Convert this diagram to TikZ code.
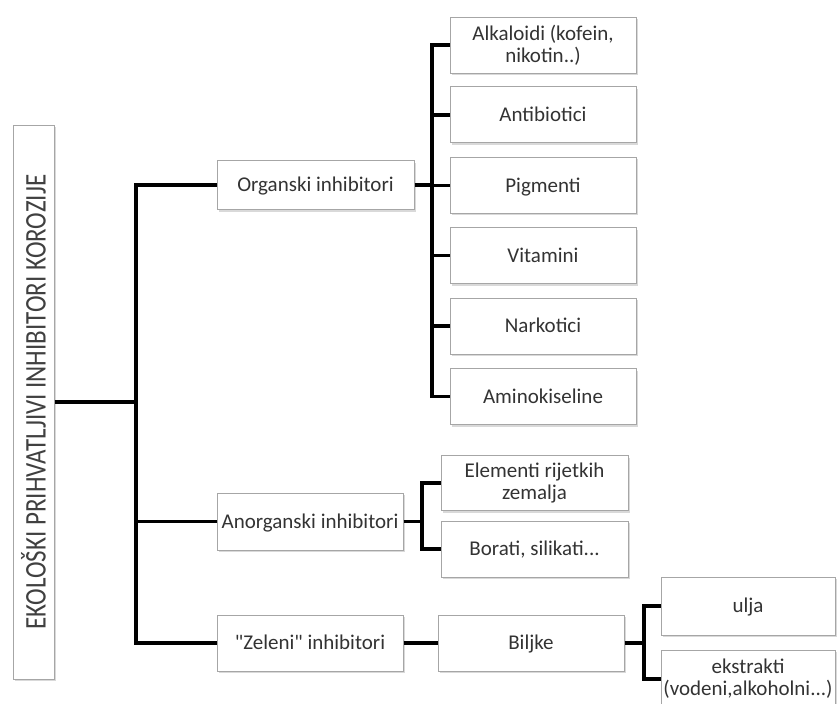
\documentclass[tikz,border=0pt]{standalone}
\usepackage{fontspec}
\setmainfont{Carlito}
\newfontfamily\plaincarlito{Carlito}
\usetikzlibrary{shadows}
\begin{document}
\begin{tikzpicture}[x=1pt,y=-1pt,
  base/.style={draw=black!35, line width=1pt, fill=white,
    drop shadow={shadow xshift=1.5pt, shadow yshift=-2pt, opacity=0.3},
    text=black!80, font=\fontsize{21}{22}\selectfont, inner sep=0pt},
  box/.style={base, align=center},
  one/.style={base, text height=15pt, text depth=1.5pt},
  leaf/.style={one, minimum width=186pt, minimum height=56pt},
  conn/.style={line width=3.5pt, black}]
\useasboundingbox (0,0) rectangle (838,704);

% root
\node[base, text=black!75, minimum width=41pt, minimum height=554pt] (root) at (33.5,402)
  {\rotatebox{90}{\scalebox{1}[1.2]{\fontsize{25}{25}\selectfont EKOLOŠKI PRIHVATLJIVI INHIBITORI KOROZIJE}}};

% level 1
\node[one, minimum width=197pt, minimum height=49pt] (org) at (315.5,185) {Organski inhibitori};
\node[one, minimum width=186pt, minimum height=57pt] (anorg) at (310,521.5) {Anorganski inhibitori};
\node[one, minimum width=186pt, minimum height=56pt] (zel) at (310,643) {\plaincarlito "Zeleni" inhibitori};

% organski children
\node[box, minimum width=186pt, minimum height=56pt] (alk) at (543,45) {Alkaloidi (kofein,\\nikotin..)};
\node[leaf] (ant) at (543,114.9) {Antibiotici};
\node[leaf] (pig) at (543,185.3) {Pigmenti};
\node[leaf] (vit) at (543,255.7) {Vitamini};
\node[leaf] (nar) at (543,326.1) {Narkotici};
\node[leaf] (ami) at (543,396.5) {Aminokiseline};

% anorganski children
\node[box, minimum width=187pt, minimum height=55pt] (ele) at (534.5,483) {Elementi rijetkih\\zemalja};
\node[one, minimum width=187pt, minimum height=56pt] (bor) at (534.5,549) {Borati, silikati...};

% zeleni
\node[one, minimum width=186pt, minimum height=56pt] (bil) at (531,643) {Biljke};
\node[one, minimum width=174pt, minimum height=58pt] (ulj) at (748,606) {ulja};
\node[box, minimum width=174pt, minimum height=58pt] (eks) at (748,679) {ekstrakti\\(vodeni,alkoholni...)};

% connectors
\coordinate (tj) at (136,402);
\draw[conn] (root.east) -- (tj);
\draw[conn] (org.west) -| (tj);
\draw[conn] (zel.west) -| (tj);
\draw[conn] (anorg.west) -- (anorg.west -| tj);

\coordinate (oj) at (432,185);
\draw[conn] (org.east) -- (oj);
\foreach \c in {alk,ant,pig,vit,nar,ami}
  \draw[conn] (\c.west) -| (oj);

\coordinate (aj) at (422,521.5);
\draw[conn] (anorg.east) -- (aj);
\draw[conn] (ele.west) -| (aj);
\draw[conn] (bor.west) -| (aj);

\draw[conn] (zel.east) -- (bil.west);
\coordinate (bj) at (644,643);
\draw[conn] (bil.east) -- (bj);
\draw[conn] (ulj.west) -| (bj);
\draw[conn] (eks.west) -| (bj);
\end{tikzpicture}
\end{document}
